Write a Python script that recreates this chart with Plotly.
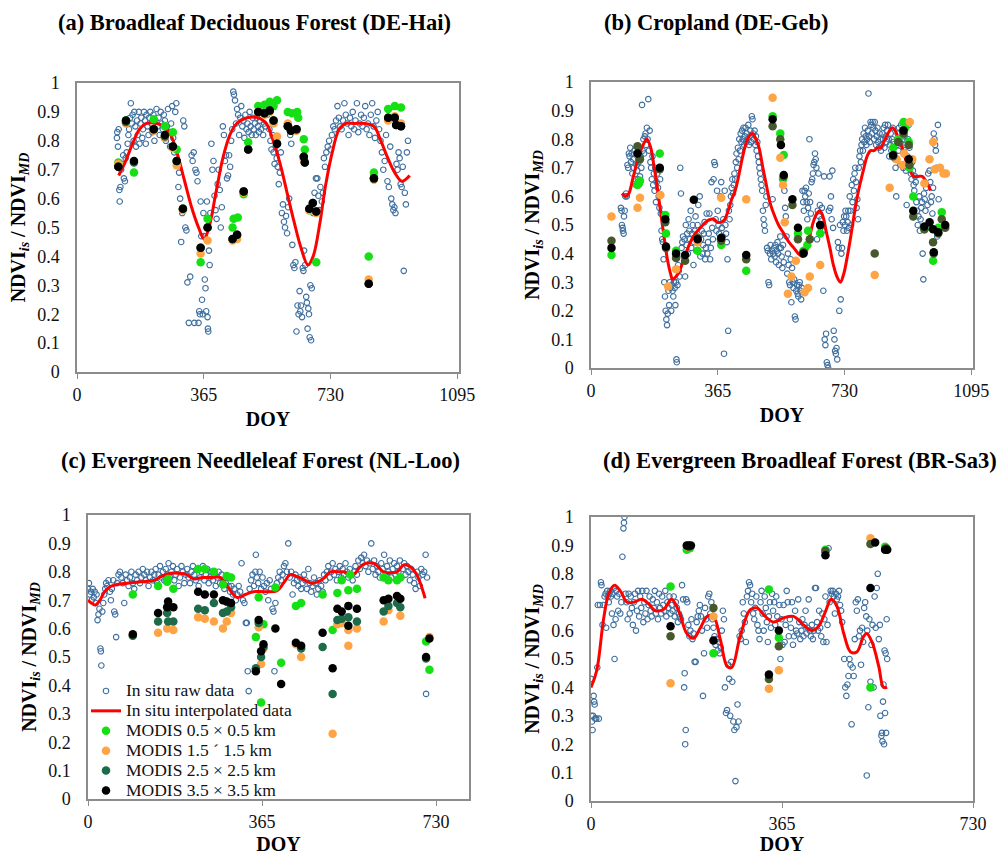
import plotly.graph_objects as go

# ---------------- data (DOY, NDVI ratio) ----------------
raw_a = [(115,0.81),(116,0.83),(118,0.78),(120,0.84),(122,0.63),(123,0.59),(125,0.64),(127,0.70),(130,0.72),(133,0.75),(135,0.67),(138,0.66),(140,0.74),(143,0.76),(146,0.79),(148,0.82),(150,0.84),(153,0.88),(155,0.93),(158,0.86),(160,0.89),(163,0.80),(165,0.90),(168,0.85),(170,0.78),(173,0.87),(175,0.82),(178,0.90),(180,0.79),(183,0.86),(185,0.88),(188,0.81),(190,0.84),(193,0.90),(196,0.87),(198,0.79),(200,0.89),(203,0.85),(206,0.82),(208,0.88),(211,0.90),(214,0.86),(217,0.83),(220,0.89),(223,0.80),(226,0.87),(229,0.91),(232,0.85),(235,0.88),(238,0.82),(241,0.90),(244,0.86),(247,0.84),(250,0.89),(253,0.87),(256,0.80),(259,0.85),(262,0.91),(265,0.83),(268,0.78),(271,0.86),(274,0.92),(277,0.81),(280,0.76),(283,0.90),(286,0.93),(289,0.72),(292,0.64),(294,0.69),(297,0.60),(300,0.45),(303,0.55),(306,0.87),(309,0.85),(312,0.50),(315,0.49),(318,0.31),(322,0.17),(326,0.33),(330,0.75),(333,0.73),(336,0.76),(338,0.17),(341,0.70),(344,0.69),(347,0.66),(350,0.17),(352,0.21),(354,0.20),(356,0.59),(358,0.47),(360,0.25),(362,0.20),(364,0.55),(366,0.47),(368,0.32),(370,0.29),(372,0.21),(374,0.59),(376,0.19),(377,0.15),(378,0.14),(380,0.42),(382,0.37),(384,0.55),(387,0.79),(390,0.70),(393,0.73),(396,0.61),(399,0.56),(402,0.53),(405,0.65),(408,0.70),(411,0.63),(414,0.50),(417,0.57),(420,0.85),(423,0.82),(426,0.73),(429,0.75),(432,0.67),(435,0.68),(438,0.75),(441,0.71),(444,0.80),(447,0.84),(450,0.97),(452,0.96),(455,0.94),(458,0.86),(461,0.91),(464,0.89),(467,0.82),(470,0.88),(473,0.92),(476,0.85),(479,0.87),(482,0.81),(485,0.89),(488,0.84),(491,0.86),(494,0.83),(497,0.90),(500,0.85),(503,0.82),(506,0.88),(509,0.84),(512,0.86),(515,0.82),(518,0.88),(521,0.85),(524,0.83),(527,0.87),(530,0.84),(533,0.90),(536,0.82),(539,0.86),(542,0.85),(545,0.91),(548,0.89),(551,0.93),(554,0.84),(557,0.80),(560,0.77),(563,0.82),(566,0.76),(569,0.72),(572,0.78),(575,0.74),(578,0.71),(581,0.65),(584,0.69),(587,0.76),(590,0.55),(593,0.58),(596,0.52),(599,0.50),(602,0.54),(605,0.48),(608,0.57),(611,0.60),(614,0.82),(617,0.79),(620,0.44),(623,0.37),(626,0.36),(629,0.38),(632,0.14),(635,0.23),(638,0.20),(641,0.28),(643,0.21),(645,0.23),(648,0.19),(650,0.36),(652,0.35),(654,0.42),(657,0.37),(660,0.26),(662,0.24),(664,0.15),(666,0.22),(668,0.20),(670,0.12),(672,0.30),(674,0.11),(676,0.29),(680,0.55),(684,0.62),(688,0.67),(692,0.67),(695,0.61),(698,0.56),(701,0.64),(705,0.59),(708,0.62),(711,0.74),(714,0.71),(718,0.76),(722,0.78),(726,0.80),(730,0.77),(734,0.82),(738,0.85),(742,0.84),(746,0.87),(750,0.92),(754,0.88),(758,0.85),(762,0.84),(766,0.87),(770,0.93),(774,0.89),(778,0.86),(782,0.82),(786,0.88),(790,0.85),(794,0.90),(798,0.84),(802,0.87),(806,0.93),(810,0.83),(814,0.86),(818,0.89),(822,0.85),(826,0.88),(830,0.92),(834,0.84),(838,0.86),(842,0.82),(846,0.89),(850,0.93),(854,0.85),(858,0.81),(862,0.87),(866,0.90),(870,0.84),(874,0.80),(878,0.76),(882,0.70),(886,0.73),(890,0.82),(894,0.66),(898,0.64),(902,0.78),(905,0.60),(908,0.58),(911,0.56),(914,0.57),(917,0.55),(920,0.72),(923,0.70),(926,0.76),(929,0.74),(932,0.65),(935,0.64),(938,0.71),(941,0.35),(944,0.62),(947,0.58),(950,0.76),(953,0.80)]
line_a = [(120,0.68),(140,0.73),(160,0.79),(180,0.84),(200,0.86),(230,0.86),(250,0.85),(270,0.82),(290,0.75),(310,0.66),(330,0.57),(350,0.50),(366,0.46),(380,0.50),(400,0.62),(420,0.74),(440,0.82),(460,0.86),(490,0.88),(520,0.88),(545,0.86),(565,0.80),(585,0.72),(605,0.62),(625,0.52),(645,0.43),(665,0.37),(680,0.40),(700,0.52),(715,0.64),(735,0.76),(755,0.84),(775,0.86),(800,0.86),(830,0.86),(855,0.85),(875,0.80),(895,0.74),(915,0.69),(935,0.66),(950,0.67),(958,0.68)]
a_m05 = [(119,0.725),(141,0.87),(164,0.69),(221,0.875),(253,0.85),(276,0.83),(287,0.77),(305,0.565),(356,0.38),(376,0.53),(448,0.50),(451,0.53),(463,0.535),(480,0.615),(493,0.795),(522,0.92),(540,0.925),(555,0.935),(566,0.92),(576,0.94),(607,0.90),(619,0.895),(634,0.90),(637,0.88),(653,0.805),(656,0.77),(669,0.56),(689,0.38),(840,0.40),(855,0.69),(896,0.91),(915,0.92),(933,0.915)]
a_m15 = [(119,0.72),(141,0.86),(221,0.835),(253,0.81),(276,0.775),(287,0.715),(305,0.56),(356,0.41),(376,0.455),(448,0.455),(461,0.46),(480,0.62),(522,0.90),(540,0.89),(555,0.90),(566,0.86),(576,0.815),(607,0.86),(616,0.84),(632,0.835),(653,0.735),(669,0.56),(689,0.55),(840,0.32),(855,0.665),(896,0.87),(915,0.885),(933,0.86)]
a_m25 = [(119,0.71),(141,0.865),(164,0.725),(221,0.84),(253,0.815),(276,0.78),(287,0.73),(305,0.565),(356,0.43),(376,0.50),(448,0.46),(461,0.475),(480,0.625),(493,0.77),(522,0.90),(540,0.895),(555,0.905),(566,0.87),(576,0.79),(607,0.85),(616,0.835),(632,0.84),(653,0.745),(656,0.725),(669,0.565),(679,0.585),(689,0.555),(840,0.305),(855,0.67),(896,0.88),(915,0.88),(919,0.855),(933,0.85)]
a_m35 = [(119,0.71),(141,0.87),(164,0.73),(221,0.84),(253,0.82),(276,0.78),(287,0.73),(305,0.565),(356,0.43),(376,0.50),(448,0.46),(461,0.475),(480,0.625),(493,0.77),(522,0.90),(540,0.895),(555,0.905),(566,0.87),(576,0.79),(607,0.85),(616,0.835),(632,0.84),(653,0.745),(656,0.725),(669,0.565),(679,0.585),(689,0.555),(840,0.305),(855,0.67),(896,0.88),(915,0.88),(919,0.855),(933,0.85)]

raw_b = [(86,0.56),(88,0.55),(89,0.50),(91,0.49),(92,0.48),(94,0.47),(95,0.53),(97,0.55),(99,0.60),(101,0.61),(103,0.60),(105,0.71),(107,0.70),(109,0.75),(111,0.74),(113,0.77),(115,0.72),(117,0.75),(119,0.68),(121,0.73),(123,0.70),(125,0.76),(127,0.66),(129,0.64),(131,0.71),(133,0.69),(135,0.66),(137,0.72),(139,0.65),(141,0.67),(143,0.74),(145,0.70),(147,0.92),(149,0.76),(151,0.80),(153,0.75),(155,0.81),(157,0.82),(159,0.78),(161,0.84),(163,0.80),(165,0.94),(167,0.76),(169,0.83),(171,0.72),(173,0.70),(175,0.66),(177,0.74),(179,0.64),(181,0.68),(183,0.62),(185,0.70),(187,0.58),(189,0.65),(191,0.68),(193,0.63),(195,0.60),(197,0.56),(199,0.66),(201,0.54),(203,0.48),(205,0.45),(207,0.44),(209,0.38),(211,0.30),(213,0.25),(215,0.20),(217,0.17),(219,0.15),(221,0.19),(223,0.27),(225,0.22),(227,0.30),(229,0.28),(231,0.20),(233,0.29),(235,0.27),(237,0.25),(239,0.30),(241,0.28),(243,0.22),(245,0.30),(246,0.03),(247,0.02),(249,0.29),(251,0.36),(253,0.34),(255,0.32),(257,0.70),(259,0.61),(261,0.42),(263,0.44),(265,0.46),(267,0.39),(269,0.45),(271,0.32),(273,0.50),(275,0.43),(277,0.47),(279,0.40),(281,0.52),(283,0.48),(285,0.45),(287,0.55),(289,0.42),(291,0.47),(293,0.50),(295,0.36),(297,0.44),(299,0.48),(301,0.53),(303,0.41),(305,0.46),(307,0.50),(309,0.57),(311,0.44),(313,0.60),(315,0.39),(317,0.45),(319,0.48),(321,0.40),(323,0.43),(325,0.47),(327,0.51),(329,0.38),(331,0.42),(333,0.54),(335,0.40),(337,0.44),(339,0.47),(341,0.54),(343,0.38),(345,0.42),(347,0.65),(349,0.49),(351,0.45),(353,0.66),(355,0.72),(357,0.71),(359,0.52),(361,0.48),(363,0.62),(365,0.55),(367,0.50),(369,0.47),(371,0.45),(373,0.60),(375,0.65),(377,0.49),(379,0.46),(381,0.52),(383,0.05),(385,0.62),(387,0.50),(389,0.47),(391,0.44),(393,0.38),(395,0.13),(397,0.55),(399,0.52),(401,0.57),(403,0.60),(405,0.63),(407,0.66),(409,0.61),(411,0.64),(413,0.68),(415,0.66),(417,0.72),(419,0.75),(421,0.70),(423,0.77),(425,0.73),(427,0.80),(429,0.76),(431,0.82),(433,0.79),(435,0.83),(437,0.80),(439,0.84),(441,0.78),(443,0.81),(445,0.84),(447,0.79),(449,0.82),(451,0.80),(453,0.85),(455,0.78),(457,0.81),(459,0.83),(461,0.79),(463,0.88),(465,0.87),(467,0.82),(469,0.80),(471,0.83),(473,0.78),(475,0.81),(477,0.76),(479,0.79),(481,0.74),(483,0.72),(485,0.70),(487,0.68),(489,0.66),(491,0.64),(493,0.62),(495,0.55),(497,0.52),(499,0.50),(501,0.48),(503,0.57),(505,0.60),(507,0.42),(509,0.41),(511,0.30),(513,0.29),(515,0.40),(517,0.43),(519,0.38),(521,0.41),(523,0.59),(525,0.40),(527,0.42),(529,0.39),(531,0.43),(533,0.37),(535,0.41),(537,0.44),(539,0.40),(541,0.36),(543,0.42),(545,0.46),(547,0.42),(549,0.39),(551,0.35),(553,0.43),(555,0.37),(557,0.62),(559,0.56),(561,0.53),(563,0.46),(565,0.33),(567,0.40),(569,0.36),(571,0.30),(573,0.29),(575,0.38),(577,0.23),(579,0.35),(581,0.30),(583,0.28),(585,0.31),(587,0.18),(589,0.17),(591,0.27),(593,0.29),(595,0.26),(597,0.25),(599,0.29),(601,0.30),(603,0.27),(605,0.24),(607,0.28),(609,0.62),(611,0.58),(613,0.55),(615,0.62),(617,0.60),(619,0.63),(621,0.58),(623,0.52),(625,0.56),(627,0.61),(629,0.80),(631,0.58),(633,0.54),(635,0.65),(637,0.66),(639,0.68),(641,0.71),(643,0.72),(645,0.75),(647,0.73),(649,0.70),(651,0.45),(653,0.55),(655,0.68),(657,0.53),(659,0.57),(661,0.49),(663,0.52),(665,0.56),(667,0.48),(669,0.27),(671,0.67),(673,0.10),(675,0.08),(677,0.12),(679,0.02),(681,0.01),(683,0.00),(685,0.55),(687,0.67),(689,0.56),(691,0.60),(693,0.52),(695,0.69),(697,0.49),(699,0.13),(701,0.10),(703,0.06),(705,0.05),(707,0.07),(709,0.03),(711,0.44),(713,0.42),(715,0.20),(717,0.50),(719,0.24),(721,0.40),(723,0.42),(725,0.51),(727,0.48),(729,0.53),(731,0.50),(733,0.55),(735,0.53),(737,0.48),(739,0.51),(741,0.55),(743,0.49),(745,0.60),(747,0.55),(749,0.50),(751,0.64),(753,0.58),(755,0.66),(757,0.62),(759,0.68),(761,0.70),(763,0.65),(765,0.56),(767,0.59),(769,0.52),(771,0.70),(773,0.74),(775,0.76),(777,0.72),(779,0.78),(781,0.80),(783,0.76),(785,0.82),(787,0.79),(789,0.84),(791,0.81),(793,0.78),(795,0.80),(797,0.83),(799,0.96),(801,0.81),(803,0.79),(805,0.86),(807,0.85),(809,0.82),(811,0.86),(813,0.84),(815,0.80),(817,0.86),(819,0.83),(821,0.78),(823,0.81),(825,0.84),(827,0.79),(829,0.77),(831,0.82),(833,0.80),(835,0.76),(837,0.78),(839,0.82),(841,0.80),(843,0.84),(845,0.77),(847,0.85),(849,0.81),(851,0.79),(853,0.83),(855,0.85),(857,0.80),(859,0.74),(861,0.78),(863,0.82),(865,0.76),(867,0.80),(869,0.84),(871,0.79),(873,0.75),(875,0.73),(877,0.70),(879,0.60),(881,0.78),(883,0.82),(885,0.76),(887,0.84),(889,0.79),(891,0.71),(893,0.85),(895,0.83),(897,0.80),(899,0.70),(901,0.77),(903,0.81),(905,0.78),(907,0.69),(909,0.57),(911,0.74),(913,0.80),(915,0.85),(917,0.77),(919,0.70),(921,0.68),(923,0.66),(925,0.72),(927,0.69),(929,0.64),(931,0.62),(933,0.67),(935,0.65),(937,0.58),(939,0.55),(941,0.50),(943,0.53),(945,0.60),(947,0.48),(949,0.52),(951,0.56),(953,0.58),(955,0.40),(957,0.31),(959,0.61),(961,0.59),(963,0.55),(965,0.63),(967,0.49),(969,0.57),(971,0.68),(973,0.73),(975,0.69),(977,0.65),(979,0.58),(981,0.60),(983,0.54),(985,0.63),(987,0.82),(989,0.80),(991,0.78),(993,0.76),(995,0.70),(997,0.46),(999,0.85),(1001,0.59)]
line_b = [(89,0.61),(100,0.60),(109,0.61),(120,0.66),(135,0.73),(150,0.78),(161,0.80),(172,0.77),(182,0.70),(190,0.64),(200,0.55),(209,0.47),(220,0.38),(229,0.33),(235,0.31),(245,0.32),(255,0.34),(270,0.39),(286,0.44),(300,0.47),(315,0.49),(330,0.51),(345,0.52),(355,0.52),(363,0.51),(375,0.51),(385,0.52),(395,0.55),(405,0.59),(415,0.62),(425,0.67),(435,0.73),(445,0.78),(455,0.81),(465,0.82),(475,0.80),(484,0.77),(495,0.70),(505,0.64),(515,0.58),(526,0.54),(540,0.50),(555,0.47),(570,0.44),(584,0.42),(597,0.40),(608,0.39),(618,0.40),(628,0.45),(640,0.51),(650,0.54),(659,0.55),(668,0.53),(677,0.48),(688,0.42),(698,0.36),(708,0.32),(718,0.30),(728,0.33),(738,0.39),(748,0.46),(757,0.53),(767,0.60),(776,0.65),(786,0.70),(795,0.74),(805,0.76),(815,0.76),(824,0.77),(834,0.77),(843,0.79),(855,0.82),(867,0.84),(876,0.83),(886,0.80),(896,0.77),(906,0.73),(918,0.69),(930,0.67),(942,0.67),(954,0.67),(966,0.65),(978,0.62)]
b_m05 = [(59,0.395),(134,0.64),(138,0.645),(141,0.655),(198,0.75),(214,0.535),(216,0.47),(245,0.41),(307,0.41),(375,0.43),(447,0.34),(523,0.88),(545,0.82),(553,0.66),(555,0.745),(596,0.47),(612,0.41),(623,0.43),(625,0.48),(660,0.47),(870,0.77),(885,0.80),(900,0.86),(905,0.84),(915,0.79),(917,0.70),(928,0.60),(960,0.485),(985,0.375),(1000,0.49),(1010,0.545)]
b_m15 = [(59,0.53),(134,0.56),(141,0.595),(200,0.605),(222,0.285),(245,0.345),(307,0.44),(375,0.595),(447,0.59),(523,0.945),(545,0.735),(553,0.64),(558,0.51),(567,0.26),(577,0.32),(590,0.375),(615,0.265),(625,0.28),(630,0.32),(660,0.36),(817,0.325),(860,0.63),(880,0.73),(897,0.71),(902,0.75),(918,0.86),(925,0.73),(960,0.645),(975,0.73),(985,0.79),(990,0.695),(1005,0.70),(1015,0.68),(1022,0.68)]
b_m25 = [(59,0.445),(134,0.775),(141,0.73),(198,0.695),(214,0.51),(216,0.42),(245,0.385),(271,0.375),(307,0.455),(375,0.445),(447,0.38),(523,0.845),(545,0.80),(555,0.67),(580,0.57),(596,0.45),(612,0.405),(630,0.45),(660,0.50),(817,0.40),(870,0.74),(885,0.79),(900,0.82),(915,0.78),(917,0.71),(928,0.53),(960,0.485),(985,0.44),(987,0.40),(1000,0.47),(1010,0.52),(1020,0.49)]
b_m35 = [(59,0.42),(134,0.75),(198,0.70),(214,0.52),(216,0.425),(245,0.40),(271,0.395),(296,0.588),(307,0.45),(375,0.455),(447,0.395),(523,0.87),(547,0.78),(555,0.675),(580,0.59),(596,0.49),(612,0.40),(660,0.50),(870,0.745),(900,0.83),(915,0.73),(928,0.55),(960,0.495),(975,0.51),(985,0.485),(987,0.405),(1000,0.475),(1020,0.50)]

raw_c = [(0,0.74),(2,0.76),(4,0.72),(6,0.73),(8,0.70),(10,0.74),(12,0.71),(14,0.73),(16,0.69),(18,0.72),(20,0.63),(22,0.65),(24,0.67),(26,0.53),(27,0.52),(28,0.47),(30,0.66),(32,0.69),(34,0.72),(36,0.74),(38,0.76),(40,0.75),(43,0.77),(46,0.73),(48,0.70),(50,0.74),(53,0.77),(55,0.66),(57,0.65),(59,0.57),(61,0.76),(64,0.79),(67,0.80),(70,0.78),(73,0.76),(76,0.69),(79,0.79),(82,0.77),(85,0.75),(88,0.78),(91,0.80),(94,0.76),(97,0.74),(100,0.79),(103,0.77),(106,0.80),(109,0.76),(112,0.78),(115,0.81),(118,0.79),(121,0.77),(124,0.80),(127,0.75),(130,0.78),(133,0.80),(136,0.77),(139,0.79),(142,0.81),(145,0.76),(148,0.79),(151,0.82),(154,0.78),(157,0.80),(160,0.77),(163,0.81),(166,0.79),(169,0.83),(172,0.78),(175,0.80),(178,0.82),(181,0.77),(184,0.79),(187,0.81),(190,0.75),(193,0.78),(196,0.82),(199,0.80),(202,0.76),(205,0.79),(208,0.81),(211,0.78),(214,0.76),(217,0.80),(220,0.82),(223,0.79),(226,0.77),(229,0.81),(232,0.75),(235,0.78),(238,0.80),(241,0.82),(244,0.77),(247,0.79),(250,0.81),(253,0.76),(256,0.78),(259,0.80),(262,0.77),(265,0.79),(268,0.75),(271,0.78),(274,0.80),(277,0.76),(280,0.79),(283,0.77),(286,0.74),(289,0.76),(292,0.78),(295,0.75),(298,0.73),(301,0.75),(304,0.72),(307,0.74),(310,0.70),(313,0.72),(316,0.75),(319,0.73),(322,0.83),(325,0.70),(328,0.69),(331,0.62),(333,0.62),(335,0.45),(337,0.38),(339,0.74),(342,0.77),(345,0.79),(348,0.75),(351,0.80),(352,0.86),(354,0.78),(357,0.76),(360,0.80),(363,0.74),(366,0.78),(369,0.75),(372,0.73),(375,0.76),(378,0.70),(381,0.77),(384,0.74),(387,0.67),(389,0.66),(391,0.45),(393,0.69),(396,0.76),(399,0.78),(402,0.80),(405,0.77),(408,0.79),(411,0.82),(414,0.83),(417,0.80),(420,0.90),(423,0.78),(426,0.80),(429,0.72),(432,0.76),(435,0.79),(438,0.77),(441,0.75),(444,0.78),(447,0.74),(450,0.76),(453,0.79),(456,0.77),(459,0.74),(462,0.81),(465,0.76),(468,0.73),(471,0.75),(474,0.78),(477,0.76),(480,0.72),(483,0.74),(486,0.77),(489,0.75),(492,0.73),(495,0.79),(498,0.77),(501,0.80),(504,0.82),(507,0.78),(510,0.80),(513,0.83),(516,0.79),(519,0.81),(522,0.77),(525,0.80),(528,0.82),(531,0.78),(534,0.81),(537,0.79),(540,0.83),(543,0.80),(546,0.78),(549,0.81),(552,0.79),(555,0.77),(558,0.80),(561,0.82),(564,0.79),(567,0.84),(570,0.81),(573,0.85),(576,0.83),(579,0.86),(582,0.82),(585,0.84),(588,0.80),(591,0.83),(594,0.90),(597,0.81),(600,0.84),(603,0.79),(606,0.82),(609,0.80),(612,0.78),(615,0.83),(618,0.81),(621,0.86),(624,0.79),(627,0.82),(630,0.80),(633,0.84),(636,0.78),(639,0.81),(642,0.83),(645,0.79),(648,0.82),(651,0.80),(654,0.84),(657,0.78),(660,0.81),(663,0.83),(666,0.79),(669,0.82),(672,0.80),(675,0.77),(678,0.81),(681,0.79),(684,0.76),(687,0.74),(690,0.80),(693,0.78),(696,0.75),(699,0.81),(702,0.79),(705,0.80),(708,0.86),(709,0.37),(711,0.78)]
line_c = [(0,0.70),(7,0.69),(15,0.683),(25,0.70),(35,0.73),(47,0.748),(60,0.755),(82,0.76),(110,0.765),(138,0.77),(155,0.785),(173,0.795),(190,0.795),(207,0.79),(221,0.775),(240,0.78),(256,0.78),(277,0.78),(288,0.76),(298,0.735),(312,0.71),(330,0.72),(347,0.73),(370,0.73),(396,0.733),(410,0.76),(424,0.79),(436,0.785),(448,0.777),(469,0.76),(482,0.765),(494,0.777),(508,0.80),(522,0.80),(536,0.80),(557,0.79),(567,0.81),(578,0.827),(599,0.83),(610,0.815),(620,0.80),(648,0.80),(662,0.824),(676,0.818),(688,0.795),(697,0.76),(707,0.707)]
c_m05 = [(94,0.72),(147,0.75),(166,0.765),(168,0.775),(179,0.74),(231,0.81),(245,0.81),(264,0.80),(283,0.755),(291,0.785),(300,0.78),(352,0.57),(358,0.71),(363,0.34),(368,0.615),(393,0.745),(405,0.48),(436,0.68),(447,0.69),(492,0.72),(513,0.595),(523,0.725),(532,0.77),(546,0.735),(550,0.79),(564,0.74),(620,0.78),(630,0.77),(648,0.77),(655,0.78),(709,0.555),(716,0.455)]
c_m15 = [(94,0.575),(147,0.585),(166,0.60),(179,0.595),(231,0.64),(245,0.635),(264,0.625),(283,0.60),(291,0.625),(300,0.655),(352,0.455),(358,0.605),(363,0.475),(368,0.53),(436,0.545),(447,0.50),(513,0.23),(523,0.615),(532,0.62),(546,0.595),(546,0.54),(564,0.60),(620,0.625),(630,0.665),(655,0.645),(716,0.57)]
c_m25 = [(94,0.575),(147,0.625),(166,0.655),(168,0.625),(179,0.625),(231,0.67),(245,0.665),(264,0.69),(283,0.655),(291,0.66),(300,0.675),(352,0.46),(358,0.62),(363,0.50),(368,0.535),(447,0.53),(492,0.535),(513,0.37),(523,0.63),(532,0.635),(546,0.64),(564,0.625),(620,0.66),(630,0.68),(648,0.69),(655,0.675),(709,0.495)]
c_m35 = [(94,0.58),(147,0.655),(166,0.675),(168,0.695),(179,0.675),(231,0.73),(245,0.72),(264,0.72),(283,0.70),(291,0.695),(300,0.69),(352,0.45),(358,0.63),(363,0.52),(368,0.545),(393,0.60),(405,0.405),(436,0.55),(447,0.54),(492,0.585),(513,0.46),(523,0.67),(532,0.66),(546,0.68),(546,0.61),(564,0.67),(620,0.70),(630,0.705),(648,0.715),(655,0.705),(709,0.50),(716,0.565)]

raw_d = [(0,0.43),(1,0.30),(2,0.28),(3,0.25),(4,0.30),(5,0.37),(6,0.35),(7,0.34),(8,0.29),(10,0.29),(12,0.47),(13,0.69),(15,0.29),(17,0.69),(19,0.77),(20,0.76),(22,0.62),(24,0.69),(26,0.72),(28,0.73),(29,0.61),(31,0.74),(32,0.72),(34,0.70),(35,0.73),(37,0.74),(38,0.72),(40,0.66),(41,0.73),(43,0.62),(44,0.75),(45,0.50),(47,0.64),(48,0.74),(50,0.72),(52,0.67),(54,0.73),(56,0.66),(58,0.70),(60,0.86),(62,0.96),(63,0.98),(64,1.00),(66,0.73),(68,0.70),(70,0.64),(72,0.73),(74,0.66),(76,0.72),(78,0.68),(80,0.62),(82,0.70),(84,0.73),(86,0.60),(88,0.67),(90,0.74),(92,0.65),(94,0.72),(96,0.68),(98,0.74),(100,0.63),(102,0.70),(104,0.66),(106,0.74),(108,0.64),(110,0.69),(112,0.72),(114,0.67),(116,0.65),(118,0.71),(120,0.68),(122,0.74),(124,0.66),(126,0.70),(128,0.64),(130,0.73),(132,0.68),(134,0.66),(136,0.72),(138,0.69),(140,0.67),(142,0.74),(144,0.65),(146,0.70),(148,0.68),(150,0.72),(152,0.66),(154,0.69),(156,0.67),(158,0.72),(160,0.65),(162,0.70),(164,0.68),(166,0.63),(168,0.66),(170,0.65),(172,0.64),(174,0.76),(176,0.71),(178,0.40),(179,0.45),(180,0.20),(181,0.25),(182,0.71),(184,0.70),(186,0.62),(188,0.58),(190,0.60),(192,0.64),(194,0.57),(196,0.59),(198,0.49),(200,0.49),(202,0.63),(204,0.65),(206,0.67),(208,0.69),(210,0.65),(212,0.60),(214,0.37),(216,0.52),(218,0.68),(220,0.64),(222,0.61),(224,0.72),(226,0.73),(228,0.66),(230,0.70),(232,0.64),(234,0.61),(236,0.58),(238,0.55),(240,0.57),(242,0.53),(244,0.56),(246,0.52),(248,0.54),(250,0.60),(252,0.67),(254,0.64),(256,0.40),(258,0.31),(260,0.32),(262,0.48),(264,0.43),(266,0.30),(268,0.49),(270,0.42),(272,0.28),(274,0.25),(276,0.07),(278,0.26),(280,0.34),(282,0.28),(284,0.58),(286,0.57),(288,0.60),(290,0.70),(292,0.66),(294,0.63),(296,0.56),(298,0.72),(300,0.74),(302,0.77),(304,0.76),(306,0.70),(308,0.73),(310,0.66),(312,0.64),(314,0.68),(316,0.72),(318,0.62),(320,0.60),(322,0.57),(324,0.70),(326,0.74),(328,0.66),(330,0.60),(332,0.72),(334,0.68),(336,0.63),(338,0.56),(340,0.65),(342,0.70),(344,0.61),(346,0.73),(348,0.67),(350,0.70),(352,0.62),(354,0.72),(356,0.65),(358,0.58),(360,0.69),(362,0.50),(364,0.64),(366,0.55),(368,0.69),(370,0.56),(372,0.62),(374,0.74),(376,0.70),(378,0.58),(380,0.64),(382,0.61),(384,0.70),(386,0.55),(388,0.58),(390,0.67),(392,0.60),(394,0.59),(396,0.71),(398,0.63),(400,0.57),(402,0.60),(404,0.64),(406,0.58),(408,0.62),(410,0.67),(412,0.59),(414,0.61),(416,0.71),(418,0.60),(420,0.58),(422,0.62),(424,0.57),(426,0.60),(428,0.75),(430,0.75),(432,0.63),(434,0.60),(436,0.67),(438,0.61),(440,0.58),(442,0.66),(444,0.56),(446,0.64),(448,0.72),(450,0.56),(452,0.62),(454,0.89),(456,0.70),(458,0.74),(460,0.73),(462,0.74),(464,0.72),(466,0.66),(468,0.73),(470,0.71),(472,0.72),(474,0.74),(476,0.69),(478,0.67),(480,0.63),(484,0.50),(486,0.40),(488,0.37),(490,0.41),(492,0.44),(494,0.50),(496,0.48),(498,0.27),(500,0.47),(502,0.44),(504,0.57),(506,0.70),(508,0.67),(510,0.71),(512,0.58),(514,0.60),(516,0.48),(518,0.61),(520,0.56),(522,0.68),(524,0.70),(526,0.65),(527,0.09),(528,0.60),(530,0.33),(532,0.64),(534,0.42),(536,0.55),(538,0.62),(540,0.40),(542,0.72),(544,0.61),(546,0.75),(548,0.80),(550,0.57),(552,0.62),(553,0.30),(555,0.23),(556,0.24),(557,0.21),(558,0.35),(559,0.41),(560,0.20),(561,0.53),(562,0.31),(563,0.52),(564,0.24),(565,0.64),(566,0.50)]
line_d = [(0,0.40),(11,0.46),(24,0.64),(34,0.73),(45,0.76),(56,0.74),(69,0.70),(82,0.70),(97,0.71),(110,0.694),(123,0.67),(139,0.675),(154,0.71),(168,0.667),(183,0.59),(196,0.573),(209,0.61),(222,0.65),(234,0.65),(247,0.57),(260,0.475),(269,0.47),(285,0.58),(304,0.673),(317,0.68),(333,0.65),(349,0.63),(368,0.645),(387,0.65),(406,0.62),(422,0.60),(435,0.615),(448,0.667),(459,0.71),(470,0.685),(483,0.59),(496,0.525),(508,0.525),(521,0.58),(527,0.59),(537,0.56),(550,0.473),(559,0.40),(566,0.40)]
d_m05 = [(152,0.755),(183,0.885),(189,0.89),(234,0.52),(340,0.745),(359,0.575),(448,0.885),(534,0.40),(562,0.895)]
d_m15 = [(152,0.415),(185,0.895),(234,0.65),(340,0.395),(359,0.46),(448,0.875),(534,0.925),(566,0.885)]
d_m25 = [(152,0.58),(187,0.895),(234,0.68),(340,0.43),(359,0.545),(448,0.88),(534,0.905),(564,0.89)]
d_m35 = [(152,0.615),(183,0.90),(187,0.90),(191,0.90),(234,0.565),(340,0.445),(359,0.60),(448,0.865),(534,0.75),(543,0.91),(562,0.885),(566,0.885)]

titles = ["(a) Broadleaf Deciduous Forest (DE-Hai)", "(b) Cropland (DE-Geb)",
          "(c) Evergreen Needleleaf Forest (NL-Loo)", "(d) Evergreen Broadleaf Forest (BR-Sa3)"]
names = ["In situ raw data", "In situ interpolated data", "MODIS 0.5 \u00d7 0.5 km",
         "MODIS 1.5 \u00b4 1.5 km", "MODIS 2.5 \u00d7 2.5 km", "MODIS 3.5 \u00d7 3.5 km"]
x_ticks_top = [0, 365, 730, 1095]
x_ticks_bottom = [0, 365, 730]

# ---------------- page geometry (body margin removed, figure fills the window) ----------------
W, H = 1007, 855


def px_x(X):
    return X / W


def px_y(Y):
    return 1 - Y / H


# ---------------- styling ----------------
FONT = "Liberation Serif, Times New Roman, serif"
C_RAW = "#3D6E9E"
C_LINE = "#FF0000"
C_05 = "#14E014"
C_15 = "#FFA444"
C_35 = "#000000"

fig = go.Figure()

panels = [
    dict(raw=raw_a, line=line_a, m=[a_m05, a_m15, a_m25, a_m35], ax="", c25="#1E6B4A",
         box=(77, 459, 83, 372), xr=[0, 1100], xt=x_ticks_top),
    dict(raw=raw_b, line=line_b, m=[b_m05, b_m15, b_m25, b_m35], ax="2", c25="#46592C",
         box=(591, 973, 82, 368), xr=[0, 1100], xt=x_ticks_top),
    dict(raw=raw_c, line=line_c, m=[c_m05, c_m15, c_m25, c_m35], ax="3", c25="#1E6B4A",
         box=(88, 469, 515, 799), xr=[0, 799], xt=x_ticks_bottom),
    dict(raw=raw_d, line=line_d, m=[d_m05, d_m15, d_m25, d_m35], ax="4", c25="#46592C",
         box=(591, 973, 517, 801), xr=[0, 730], xt=x_ticks_bottom),
]

LEG = '<span style="font-size:17.5px">{}</span>'

for i, p in enumerate(panels):
    xa = "x" + p["ax"]
    ya = "y" + p["ax"]
    show = (i == 2)
    fig.add_trace(go.Scatter(
        x=[d for d, v in p["raw"]], y=[v for d, v in p["raw"]], mode="markers", name=LEG.format(names[0]),
        marker=dict(symbol="circle-open", size=5.5, color=C_RAW, line=dict(width=1.1, color=C_RAW)),
        xaxis=xa, yaxis=ya, showlegend=show, legendrank=1))
    fig.add_trace(go.Scatter(
        x=[d for d, v in p["line"]], y=[v for d, v in p["line"]], mode="lines", name=LEG.format(names[1]),
        line=dict(color=C_LINE, width=3, shape="spline"),
        xaxis=xa, yaxis=ya, showlegend=show, legendrank=2))
    cols = [C_05, C_15, p["c25"], C_35]
    for k, (pts, col) in enumerate(zip(p["m"], cols)):
        fig.add_trace(go.Scatter(
            x=[d for d, v in pts], y=[v for d, v in pts], mode="markers", name=LEG.format(names[k + 2]),
            marker=dict(symbol="circle", size=8.5, color=col),
            xaxis=xa, yaxis=ya, showlegend=show, legendrank=3 + k))

axis_font = dict(family=FONT, size=18, color="#111")
title_font = dict(family=FONT, size=20, color="#000")
for i, p in enumerate(panels):
    sfx = p["ax"]
    x0, x1, y0, y1 = p["box"]
    fig.layout["xaxis" + sfx] = dict(
        domain=[px_x(x0), px_x(x1)], range=p["xr"], tickvals=p["xt"], ticktext=[str(t) for t in p["xt"]],
        showline=True, linecolor="#8c8c8c", linewidth=1.5, mirror=True,
        ticks="outside", ticklen=5, tickcolor="#8c8c8c", showgrid=False, zeroline=False,
        tickfont=axis_font, anchor="y" + sfx, automargin=False, ticklabelstandoff=1,
        title=dict(text="<b>DOY</b>", font=title_font, standoff=8))
    fig.layout["yaxis" + sfx] = dict(
        domain=[px_y(y1), px_y(y0)], range=[0, 1], dtick=0.1, tick0=0,
        showline=True, linecolor="#8c8c8c", linewidth=1.5, mirror=True,
        ticks="", showgrid=False, zeroline=False, tickfont=axis_font, anchor="x" + sfx,
        automargin=False, ticklabelstandoff=12,
        title=dict(text="<b>NDVI<sub><i>is</i></sub> / NDVI<sub><i>MD</i></sub></b>",
                   font=title_font, standoff=6))

title_pos = [(255, 22), (716, 22), (260, 460), (800, 460)]
for t, (X, Y) in zip(titles, title_pos):
    fig.add_annotation(text="<b>" + t + "</b>", x=px_x(X), y=px_y(Y), xref="paper", yref="paper",
                       showarrow=False, xanchor="center", yanchor="middle",
                       font=dict(family=FONT, size=22.5, color="#000"))

fig.update_layout(
    width=W, height=H, margin=dict(l=0, r=0, t=0, b=0),
    paper_bgcolor="white", plot_bgcolor="white",
    font=dict(family=FONT, color="#000"),
    legend=dict(x=px_x(86), y=px_y(676), xanchor="left", yanchor="top", bgcolor="rgba(0,0,0,0)",
                font=dict(family=FONT, size=13, color="#111"), tracegroupgap=0,
                itemsizing="trace", traceorder="normal"),
)

fig.write_html("out.html", config={"displayModeBar": False},
               post_script="document.body.style.margin='0px';")
